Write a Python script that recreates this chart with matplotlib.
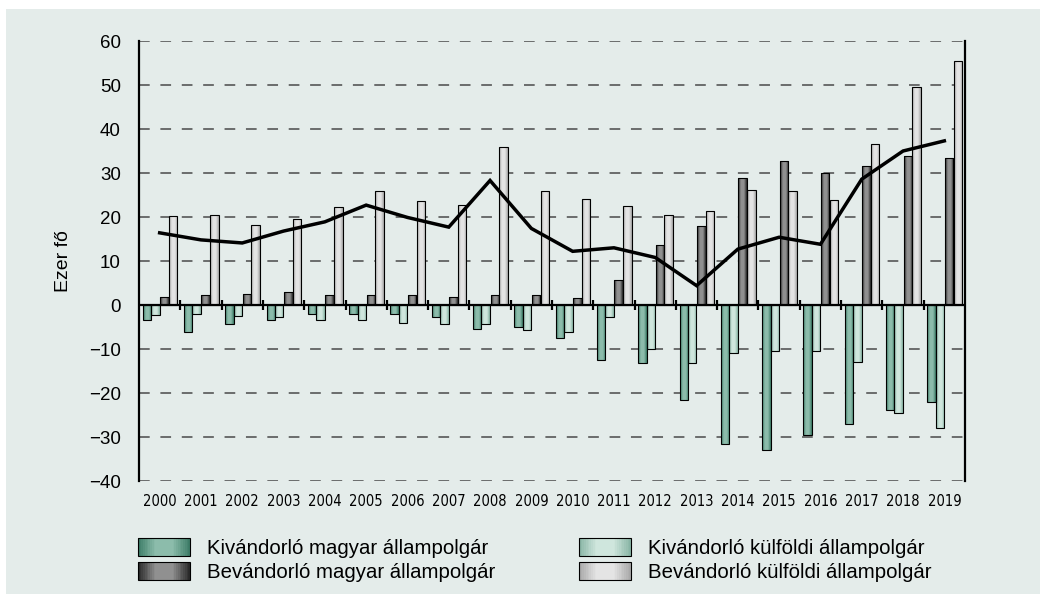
import numpy as np
import matplotlib
matplotlib.use("Agg")
import matplotlib.pyplot as plt
from matplotlib.colors import LinearSegmentedColormap
from matplotlib.patches import Rectangle
from matplotlib.legend_handler import HandlerBase
from matplotlib import font_manager

years = [str(y) for y in range(2000, 2020)]
kiv_magyar = [-3.4, -6.1, -4.4, -3.3, -2.1, -2.1, -2.0, -2.65, -5.45, -5.1,
              -7.4, -12.6, -13.1, -21.7, -31.6, -33.0, -29.6, -27.1, -23.9, -22.1]
kiv_kulfoldi = [-2.3, -2.0, -2.4, -2.7, -3.5, -3.4, -4.0, -4.25, -4.4, -5.75,
                -6.1, -2.8, -10.1, -13.1, -10.8, -10.5, -10.5, -12.9, -24.5, -28.0]
bev_magyar = [1.75, 2.3, 2.6, 2.9, 2.2, 2.3, 2.35, 1.9, 2.3, 2.35,
              1.6, 5.6, 13.6, 17.9, 28.8, 32.7, 29.9, 31.7, 33.9, 33.3]
bev_kulfoldi = [20.3, 20.4, 18.1, 19.5, 22.2, 25.8, 23.7, 22.7, 35.8, 25.8,
                24.0, 22.6, 20.4, 21.4, 26.1, 25.9, 23.9, 36.7, 49.5, 55.5]
egyenleg = [16.4, 14.8, 14.1, 16.8, 18.9, 22.7, 19.9, 17.7, 28.3, 17.4,
            12.2, 13.0, 10.8, 4.4, 12.7, 15.4, 13.8, 28.6, 35.0, 37.3]

labels = ["Kivándorló magyar állampolgár", "Bevándorló magyar állampolgár",
          "Kivándorló külföldi állampolgár", "Bevándorló külföldi állampolgár"]

BG = "#e4ecea"
# (edge colour, centre colour) of the cylinder-like shading
shades = {
    "km": ("#3a7a65", "#8cbcab"),
    "kk": ("#86b3a3", "#cfe6dd"),
    "bm": ("#262626", "#909090"),
    "bk": ("#a6a6a6", "#e4e4e4"),
}

plt.rcParams["font.family"] = ["Liberation Sans", "DejaVu Sans"]


def find_narrow():
    # look for a condensed sans face for the year labels
    for f in font_manager.fontManager.ttflist:
        if f.name in ("Liberation Sans Narrow", "Arial Narrow"):
            return font_manager.FontProperties(fname=f.fname)
    for f in font_manager.fontManager.ttflist:
        st = f.stretch if isinstance(f.stretch, str) else ""
        if ("Condensed" in f.name or "condensed" in st) and "Sans" in f.name \
                and f.weight in (400, "normal", "regular") and f.style == "normal":
            return font_manager.FontProperties(fname=f.fname)
    return None


def make_cmap(key):
    edge, mid = shades[key]
    return LinearSegmentedColormap.from_list(key, [edge, mid, mid, edge], N=256)


def shade_bars(ax, bars, key):
    cmap = make_cmap(key)
    grad = np.linspace(0, 1, 64).reshape(1, -1)
    for b in bars:
        x, y, w, h = b.get_x(), b.get_y(), b.get_width(), b.get_height()
        if h == 0:
            continue
        im = ax.imshow(grad, cmap=cmap, aspect="auto", interpolation="bilinear",
                       extent=(x, x + w, min(y, y + h), max(y, y + h)), zorder=2.9)
        im.set_clip_path(b)


class GradientHandler(HandlerBase):
    def __init__(self, key):
        super().__init__()
        self.key = key

    def create_artists(self, legend, orig_handle, xdescent, ydescent, width, height, fontsize, trans):
        cmap = make_cmap(self.key)
        n = 30
        arts = []
        for i in range(n):
            r = Rectangle((-xdescent + width * i / n, -ydescent - 1), width / n + 0.3, height + 2,
                          facecolor=cmap((i + 0.5) / n), edgecolor="none", transform=trans)
            arts.append(r)
        arts.append(Rectangle((-xdescent, -ydescent - 1), width, height + 2, facecolor="none",
                              edgecolor="black", lw=0.8, transform=trans))
        return arts


def main():
    fig = plt.figure(figsize=(10.4, 5.94), dpi=100, facecolor="white")
    fig.patches.append(Rectangle((6 / 1040, 0), 1, 1 - 9 / 594, transform=fig.transFigure,
                                 facecolor=BG, edgecolor="none", zorder=-10))
    ax = fig.add_axes([139 / 1040, 1 - 481 / 594, (965 - 139) / 1040, 440 / 594])
    ax.set_facecolor(BG)

    x = np.arange(len(years))
    w = 0.205
    series = [(kiv_magyar, -0.31, "km"), (kiv_kulfoldi, -0.105, "kk"),
              (bev_magyar, 0.115, "bm"), (bev_kulfoldi, 0.325, "bk")]
    for vals, off, key in series:
        bars = ax.bar(x + off, vals, w, facecolor="none", edgecolor="black", lw=0.8, zorder=3)
        shade_bars(ax, bars, key)

    ax.plot(x, egyenleg, color="black", lw=2.5, zorder=5, solid_joinstyle="miter")

    for v in range(-40, 61, 10):
        if v != 0:
            ax.axhline(v, color="#4a4a4a", lw=1.1, ls=(0, (7, 7)), zorder=1)
    ax.axhline(0, color="black", lw=1.6, zorder=4)
    ax.plot(x[:-1] + 0.5, np.zeros(len(x) - 1), ls="none", marker="|", ms=7, mew=1.6,
            color="black", zorder=4)

    ax.set_xlim(-0.5, 19.5)
    ax.set_ylim(-40, 60)
    ax.set_yticks(range(-40, 61, 10))
    ax.set_yticks(range(-40, 61, 20), minor=True)
    ax.tick_params(axis="y", which="major", length=0, pad=13, labelsize=13.5)
    ax.tick_params(axis="y", which="minor", length=5, width=1.4)
    ax.set_xticks(x)
    narrow = find_narrow()
    if narrow is not None:
        narrow.set_size(10.5)
        ax.set_xticklabels(years, fontproperties=narrow)
    else:
        ax.set_xticklabels(years, fontsize=7.5)
    ax.tick_params(axis="x", length=0, pad=9)
    for s in ["top", "bottom"]:
        ax.spines[s].set_visible(False)
    for s in ["left", "right"]:
        ax.spines[s].set_linewidth(1.6)
    ax.set_ylabel("Ezer fő", fontsize=14, labelpad=12)

    handles = [Rectangle((0, 0), 1, 1) for _ in range(4)]
    keys = ["km", "bm", "kk", "bk"]
    fig.legend(handles, labels, ncol=2, loc="upper left",
               bbox_to_anchor=(138 / 1040, 1 - 539 / 594), borderpad=0, borderaxespad=0,
               frameon=False, fontsize=14.7, handlelength=2.55, handleheight=0.72,
               handletextpad=0.83, columnspacing=4.1, labelspacing=0.25,
               handler_map={h: GradientHandler(k) for h, k in zip(handles, keys)})

    fig.savefig("out.png", dpi=100, facecolor="white")


if __name__ == "__main__":
    main()
